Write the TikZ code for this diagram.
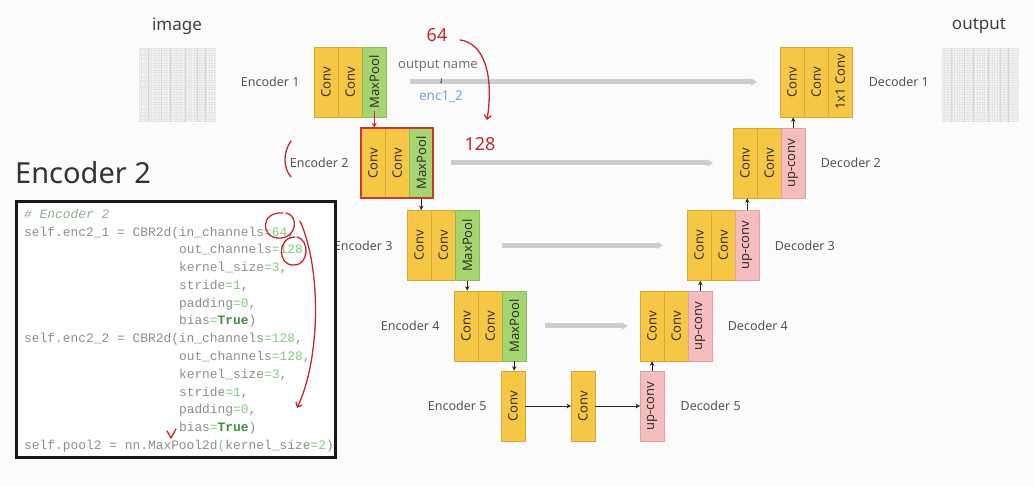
\documentclass[tikz,border=0pt]{standalone}
\usepackage{fontspec}
\setmainfont{Noto Sans}
\newfontfamily\codefont{Liberation Mono}
\usetikzlibrary{arrows.meta,positioning,calc}
\definecolor{convY}{HTML}{F6C744}
\definecolor{convB}{HTML}{D6A83C}
\definecolor{poolG}{HTML}{A6D46E}
\definecolor{poolB}{HTML}{8DBB58}
\definecolor{upP}{HTML}{F5BDBD}
\definecolor{upB}{HTML}{DFA0A0}
\definecolor{lblG}{HTML}{555555}
\definecolor{skipG}{HTML}{CDCDCD}
\definecolor{annR}{HTML}{BF2A2D}
\definecolor{frameR}{HTML}{C8392B}
\definecolor{codeG}{HTML}{8E8E8E}
\definecolor{numG}{HTML}{86C986}
\definecolor{kwG}{HTML}{3F8F3F}
\definecolor{cmtG}{HTML}{93AE93}
\definecolor{encB}{HTML}{6AA9DD}
\definecolor{bgW}{HTML}{FBFBFB}
\newcommand\R[1]{\rotatebox{90}{#1}}
\newcommand\nv[1]{\textcolor{numG}{#1}}
\newcommand\tru{\textcolor{kwG}{\bfseries True}}
\newcommand\ind{\phantom{self.enc2\_1 = CBR2d(}}
\tikzset{
  blk/.style={draw=convB, line width=0.6pt, minimum width=23.5pt, minimum height=70pt,
    inner sep=0pt, font=\fontsize{13}{13}\selectfont, text=black!80},
  conv/.style={blk, fill=convY},
  pool/.style={blk, fill=poolG, draw=poolB},
  upc/.style={blk, fill=upP, draw=upB},
  lbl/.style={font=\fontsize{12.5}{14}\selectfont, text=lblG},
  flow/.style={-{Stealth[length=4.5pt,width=4.5pt]}, line width=0.7pt, draw=black!85},
  skip/.style={-{Triangle[length=6pt,width=7pt]}, line width=5pt, draw=skipG},
  ann/.style={draw=annR, line width=1.3pt, line cap=round, line join=round},
  codeline/.style={anchor=base west, inner sep=0pt, text=codeG, font=\codefont\fontsize{12.9}{14}\selectfont},
  hand/.style={text=annR, font=\fontsize{18}{18}\selectfont, inner sep=0pt}
}
\begin{document}
\begin{tikzpicture}[x=1pt,y=-1pt]
\useasboundingbox (0,0) rectangle (1034,486);
\fill[bgW] (0,0) rectangle (1034,486);

% image / output grids
\node[font=\fontsize{17}{17}\selectfont, text=black!75] (img) at (177,26) {image};
\node[font=\fontsize{17}{17}\selectfont, text=black!75] (outl) at (979,26) {output};
\foreach \gx in {139,942}{
  \fill[gray!8] (\gx,48) rectangle ({\gx+77},122);
  \foreach \i in {0,...,30}{
    \draw[gray!20, line width=0.35pt] ({\gx+\i*2.5},48) -- ({\gx+\i*2.5},122);
    \draw[gray!20, line width=0.35pt] (\gx,{48+\i*2.45}) -- ({\gx+77},{48+\i*2.45});
  }
  \foreach \o in {9,22,31,46,58,66}{
    \draw[gray!32, line width=0.4pt] ({\gx+\o},48) -- ({\gx+\o},122);
  }
}

% Encoder blocks
\node[conv, anchor=west] (e1a) at (314,82) {\R{Conv}};
\node[conv, right=0pt of e1a] (e1b) {\R{Conv}};
\node[pool, right=0pt of e1b] (e1c) {\R{MaxPool}};

\node[conv, anchor=west] (e2a) at (361,163) {\R{Conv}};
\node[conv, right=0pt of e2a] (e2b) {\R{Conv}};
\node[pool, right=0pt of e2b] (e2c) {\R{MaxPool}};

\node[conv, anchor=west] (e3a) at (407,245.5) {\R{Conv}};
\node[conv, right=0pt of e3a] (e3b) {\R{Conv}};
\node[pool, right=0pt of e3b] (e3c) {\R{MaxPool}};

\node[conv, anchor=west] (e4a) at (454,326) {\R{Conv}};
\node[conv, right=0pt of e4a] (e4b) {\R{Conv}};
\node[pool, right=0pt of e4b] (e4c) {\R{MaxPool}};

\node[conv, anchor=west] (e5) at (501,406) {\R{Conv}};
\node[conv, anchor=west] (mid) at (571,406) {\R{Conv}};
\node[upc, anchor=west] (d5) at (640,406) {\R{up-conv}};

% Decoder blocks
\node[conv, anchor=west] (d4a) at (640,326) {\R{Conv}};
\node[conv, right=0pt of d4a] (d4b) {\R{Conv}};
\node[upc, right=0pt of d4b] (d4c) {\R{up-conv}};

\node[conv, anchor=west] (d3a) at (687,245.5) {\R{Conv}};
\node[conv, right=0pt of d3a] (d3b) {\R{Conv}};
\node[upc, right=0pt of d3b] (d3c) {\R{up-conv}};

\node[conv, anchor=west] (d2a) at (733,163) {\R{Conv}};
\node[conv, right=0pt of d2a] (d2b) {\R{Conv}};
\node[upc, right=0pt of d2b] (d2c) {\R{up-conv}};

\node[conv, anchor=west] (d1a) at (780,82) {\R{Conv}};
\node[conv, right=0pt of d1a] (d1b) {\R{Conv}};
\node[conv, right=0pt of d1b] (d1c) {\R{1x1 Conv}};

% labels
\node[lbl, left=11pt of e1a] (le1) {Encoder 1};
\node[lbl, left=9pt of e2a] (le2) {Encoder 2};
\node[lbl, left=11pt of e3a] (le3) {Encoder 3};
\node[lbl, left=11pt of e4a] (le4) {Encoder 4};
\node[lbl, left=11pt of e5] (le5) {Encoder 5};
\node[lbl, right=13pt of d1c] (ld1) {Decoder 1};
\node[lbl, right=12pt of d2c] (ld2) {Decoder 2};
\node[lbl, right=12pt of d3c] (ld3) {Decoder 3};
\node[lbl, right=12pt of d4c] (ld4) {Decoder 4};
\node[lbl, right=13pt of d5] (ld5) {Decoder 5};

% skip connections
\draw[skip, shorten <=23.5pt, shorten >=23pt] (e1c.east) -- (d1a.west);
\draw[skip, shorten <=18pt, shorten >=20pt] (e2c.east) -- (d2a.west);
\draw[skip, shorten <=23pt, shorten >=24pt] (e3c.east) -- (d3a.west);
\draw[skip, shorten <=19pt, shorten >=12pt] (e4c.east) -- (d4a.west);

% output name note
\node[font=\fontsize{13}{13}\selectfont, text=black!55] (oname) at (438,66) {output name};
\node[font=\fontsize{13.5}{13.5}\selectfont, text=encB] (enc) at (441,97) {enc1\_2};
\draw[-{Stealth[length=2.5pt,width=2.5pt]}, line width=0.5pt, black!60, shorten <=3pt, shorten >=4pt] (oname.south -| enc.north) -- (enc.north);

% flow arrows
\draw[flow] (e2c.south) -- (e2c.south |- e3a.north);
\draw[flow] (e3c.south) -- (e3c.south |- e4a.north);
\draw[flow] (e4c.south) -- (e4c.south |- e5.north);
\draw[flow] (e5) -- (mid);
\draw[flow] (mid) -- (d5);
\draw[flow] (d5.north) -- (d5.north |- d4a.south);
\draw[flow] (d4c.north) -- (d4c.north |- d3a.south);
\draw[flow] (d3c.north) -- (d3c.north |- d2a.south);
\draw[flow] (d2c.north) -- (d2c.north |- d1a.south);

% red frame and arrow of Encoder 2
\draw[frameR, line width=2pt] (e2a.north west) rectangle (e2c.south east);
\draw[ann, line width=1.1pt, -{Stealth[length=5pt,width=5pt]}] ($(e1c.south)+(0,-6)$) -- (e1c.south |- e2a.north);

% code panel
\node[font=\fontsize{29}{30}\selectfont, text=black!80, anchor=west, inner sep=0pt] (title) at (15,173) {Encoder 2};
\draw[line width=3pt, draw=black!90, fill=white] (16,202) rectangle (335,457);
\node[codeline] (c1) at (24,218.5) {\textcolor{cmtG}{\itshape \# Encoder 2}};
\node[codeline] (c2) at (24,236.25) {self.enc2\_1 = CBR2d(in\_channels\nv{=64},};
\node[codeline] (c3) at (24,254) {\ind out\_channels\nv{=128},};
\node[codeline] (c4) at (24,271.75) {\ind kernel\_size\nv{=3},};
\node[codeline] (c5) at (24,289.5) {\ind stride\nv{=1},};
\node[codeline] (c6) at (24,307.25) {\ind padding\nv{=0},};
\node[codeline] (c7) at (24,325) {\ind bias\nv{=}\tru)};
\node[codeline] (c8) at (24,342.75) {self.enc2\_2 = CBR2d(in\_channels\nv{=128},};
\node[codeline] (c9) at (24,360.5) {\ind out\_channels\nv{=128},};
\node[codeline] (c10) at (24,378.25) {\ind kernel\_size\nv{=3},};
\node[codeline] (c11) at (24,396) {\ind stride\nv{=1},};
\node[codeline] (c12) at (24,413.75) {\ind padding\nv{=0},};
\node[codeline] (c13) at (24,431.5) {\ind bias\nv{=}\tru)};
\node[codeline] (c14) at (24,449.25) {self.pool2 = nn.MaxPool2d\nv{(}kernel\_size\nv{=2})};

% handwritten annotations
\node[hand] (t64) at (437,35) {64};
\node[hand] (t128) at (480,144) {128};
\coordinate (a1s) at (460,40);
\coordinate (a1e) at (487,120);
\draw[ann, -{Straight Barb[length=4pt,width=7pt]}] (a1s) .. controls (484,43) and (494,75) .. (a1e);
\draw[ann] (291,141) .. controls (283,152) and (283,168) .. (291,177);
\draw[ann] (283,213) .. controls (260,211) and (260,239) .. (280,238) .. controls (297,238) and (299,215) .. (286,213);
\draw[ann] (295,237) .. controls (277,237) and (277,266) .. (294,265) .. controls (309,265) and (310,240) .. (297,237);
\coordinate (a2s) at (300,221);
\coordinate (a2e) at (297,408);
\draw[ann, -{Straight Barb[length=4pt,width=7pt]}] (a2s) .. controls (322,270) and (320,360) .. (a2e);
\draw[ann] (167,431) -- (171,438) -- (176,429);
\end{tikzpicture}
\end{document}
